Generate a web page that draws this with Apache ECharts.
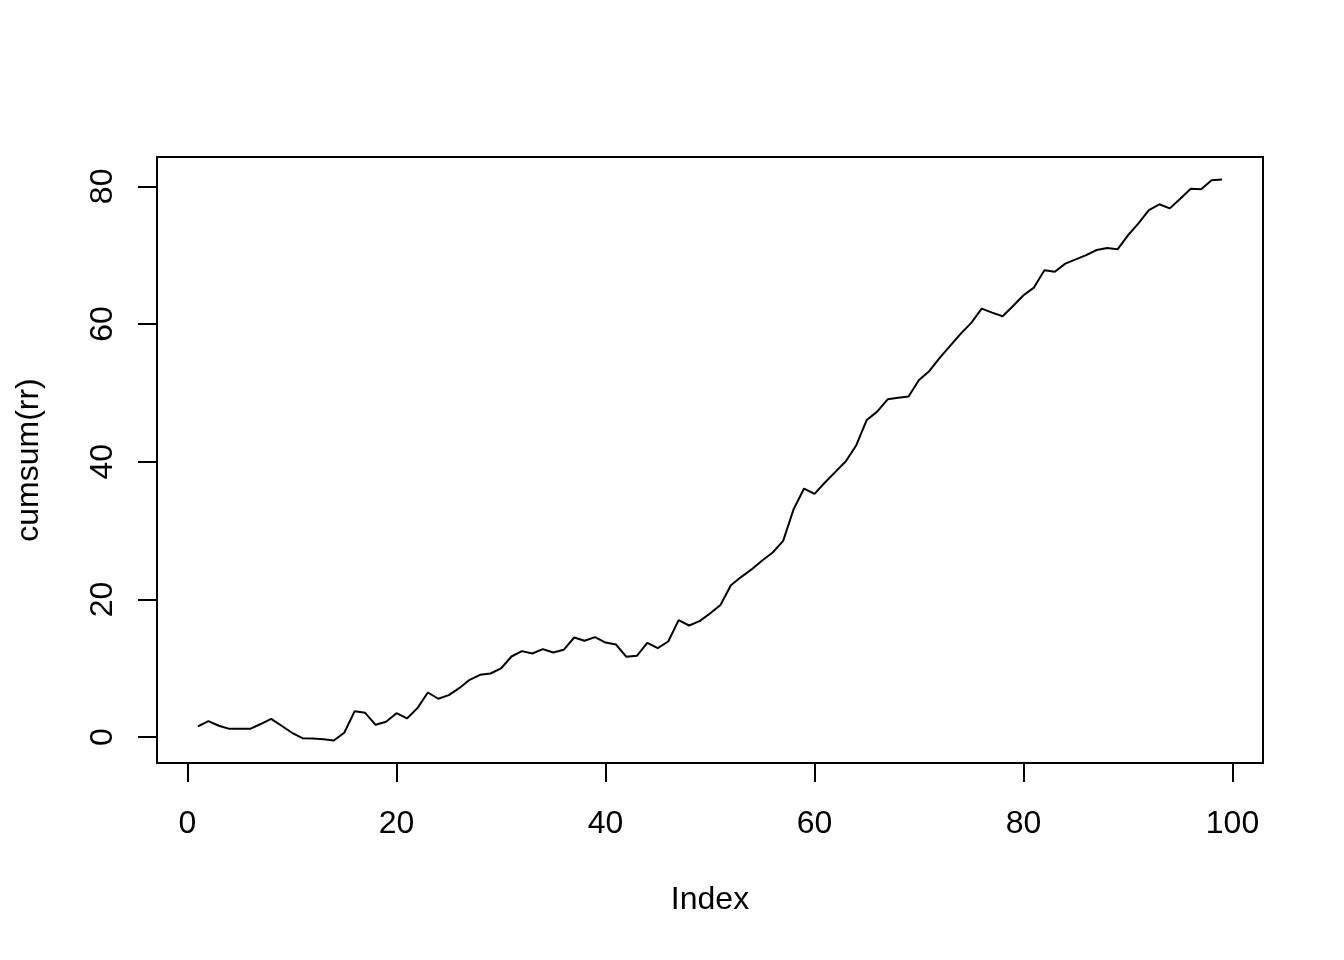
<!DOCTYPE html>
<html><head><meta charset="utf-8">
<script src="https://cdn.jsdelivr.net/npm/echarts@6/dist/echarts.min.js"></script>
<style>html,body{margin:0;padding:0;background:#fff}#c{width:1344px;height:960px}</style>
</head><body><div id="c"></div>
<script>
const indexValues = [1,2,3,4,5,6,7,8,9,10,11,12,13,14,15,16,17,18,19,20,
  21,22,23,24,25,26,27,28,29,30,31,32,33,34,35,36,37,38,39,40,
  41,42,43,44,45,46,47,48,49,50,51,52,53,54,55,56,57,58,59,60,
  61,62,63,64,65,66,67,68,69,70,71,72,73,74,75,76,77,78,79,80,
  81,82,83,84,85,86,87,88,89,90,91,92,93,94,95,96,97,98,99];
const cumsumValues = [1.55,2.32,1.65,1.2,1.2,1.2,1.9,2.66,1.65,0.63,
  -0.15,-0.2,-0.3,-0.5,0.63,3.77,3.53,1.79,2.23,3.48,
  2.71,4.21,6.48,5.57,6.1,7.11,8.32,9.05,9.24,9.97,
  11.71,12.49,12.15,12.78,12.29,12.68,14.47,13.99,14.52,13.74,
  13.45,11.66,11.81,13.7,12.92,13.89,16.99,16.21,16.84,17.95,
  19.2,22.07,23.28,24.39,25.65,26.81,28.5,33.1,36.1,35.33,
  36.98,38.52,40.07,42.4,46.07,47.28,49.07,49.3,49.46,51.88,
  53.19,55.13,56.87,58.61,60.16,62.24,61.66,61.12,62.62,64.17,
  65.29,67.8,67.6,68.77,69.38,70.0,70.75,71.04,70.85,72.89,
  74.63,76.56,77.39,76.8,78.21,79.66,79.56,80.9,81.0];
const xTicks = [0,20,40,60,80,100];
const yTicks = [0,20,40,60,80];
const xTitle = 'Index';
const yTitle = 'cumsum(rr)';

const font = 'Liberation Sans, Arial, Helvetica, sans-serif';
const chart = echarts.init(document.getElementById('c'), null, {renderer: 'canvas'});
chart.setOption({
  animation: false,
  backgroundColor: '#ffffff',
  grid: {
    left: 157, top: 157, width: 1106, height: 606,
    show: true, borderColor: '#000', borderWidth: 2, backgroundColor: 'transparent',
    containLabel: false, outerBoundsMode: 'none'
  },
  xAxis: {
    type: 'value', min: -2.92, max: 102.92,
    axisLine: {show: false, onZero: false}, splitLine: {show: false},
    axisTick: {show: true, customValues: xTicks, length: 19, inside: false, lineStyle: {color: '#000', width: 2}},
    axisLabel: {customValues: xTicks, margin: 45, fontSize: 32, color: '#000', fontFamily: font},
    name: xTitle, nameLocation: 'middle', nameGap: 121,
    nameTextStyle: {fontSize: 32, color: '#000', fontFamily: font}
  },
  yAxis: {
    type: 'value', min: -3.76, max: 84.26,
    axisLine: {show: false, onZero: false}, splitLine: {show: false},
    axisTick: {show: true, customValues: yTicks, length: 19, inside: false, lineStyle: {color: '#000', width: 2}},
    axisLabel: {customValues: yTicks, margin: 38, rotate: 90, fontSize: 32, color: '#000', fontFamily: font},
    name: yTitle, nameLocation: 'middle', nameGap: 112, nameRotate: 90,
    nameTextStyle: {fontSize: 32, color: '#000', fontFamily: font}
  },
  series: [{
    type: 'line',
    data: indexValues.map((x, i) => [x, cumsumValues[i]]),
    symbol: 'none', showSymbol: false, clip: false,
    lineStyle: {color: '#000', width: 2}
  }]
});
</script></body></html>
